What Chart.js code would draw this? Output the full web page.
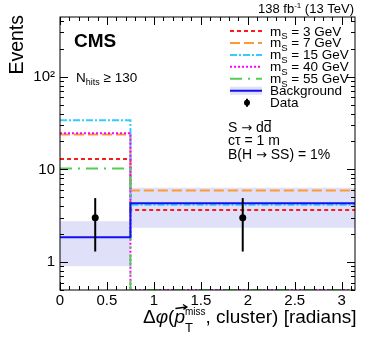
<!DOCTYPE html>
<html>
<head>
<meta charset="utf-8">
<script src="https://cdn.jsdelivr.net/npm/chart.js@4/dist/chart.umd.min.js"></script>
<style>
  html, body { margin: 0; padding: 0; background: #fff; }
  #wrap { width: 374px; height: 341px; }
</style>
</head>
<body>
<div id="wrap"><canvas id="c"></canvas></div>
<script>
// Bins and values
const binEdges = [0, 0.75, Math.PI];
const massLabels = ['3', '7', '15', '40', '55'];
const sig3 = [12.9, 3.65];
const sig7 = [23.8, 5.9];
const sig15 = [33.8, 4.15];
const sig40 = [24.6, 0];
const sig55 = [10.2, 0];
const bkg = [1.85, 4.3];
const bkgLow = [0.9, 2.35];
const bkgHigh = [2.75, 6.35];
const dataX = [0.375, 1.946];
const dataY = [3, 3];
const dataLow = [1.3, 1.3];
const dataHigh = [4.9, 4.9];
const xTicks = [0, 0.5, 1, 1.5, 2, 2.5, 3];
const yTicks = [1, 10, 100];
const yTickLabels = ['1', '10', '10\u00B2'];

const Y_MIN = 0.5, Y_MAX = 440;
const FONT = '"Liberation Sans", Arial, Helvetica, sans-serif';
const SYM = '"DejaVu Sans", sans-serif';
const BAND = 'rgb(224,224,249)';
const BLUE = '#1010f0';

function font(size, style, fam) {
    return (style || '') + ' ' + size + 'px ' + (fam || FONT);
}

// histogram as a stepped line, empty bins sit on the axis floor
function stepPoints(vals) {
    return binEdges.map((x, i) => ({ x: x, y: Math.max(vals[Math.max(i - 1, 0)], Y_MIN) }));
}

const sigStyles = [
    { vals: sig3, color: '#ff1a1a', dash: [4, 3] },
    { vals: sig7, color: '#ff9933', dash: [10, 4] },
    { vals: sig15, color: '#33ccff', dash: [7, 2, 2, 2] },
    { vals: sig40, color: '#ff00ff', dash: [2, 2] },
    { vals: sig55, color: '#55cc55', dash: [12, 6, 2, 6] }
];

const datasets = [];
datasets.push({
    label: 'Data',
    data: dataX.map((x, i) => ({ x: x, y: dataY[i] })),
    showLine: false,
    pointRadius: 3.5,
    pointBackgroundColor: '#000',
    pointBorderWidth: 0,
    order: 0
});
sigStyles.forEach((s, i) => {
    datasets.push({
        label: massLabels[i],
        data: stepPoints(s.vals),
        stepped: 'after',
        borderColor: s.color,
        borderDash: s.dash,
        borderWidth: 2,
        pointRadius: 0,
        fill: false,
        order: 6 - i
    });
});
datasets.push({
    label: 'Background',
    data: stepPoints(bkg),
    stepped: 'after',
    borderColor: BLUE,
    borderWidth: 2,
    pointRadius: 0,
    fill: false,
    order: 1
});
datasets.push({
    label: 'bandHigh',
    data: stepPoints(bkgHigh),
    stepped: 'after',
    borderWidth: 0,
    borderColor: 'rgba(0,0,0,0)',
    backgroundColor: BAND,
    pointRadius: 0,
    fill: '+1',
    order: 10
});
datasets.push({
    label: 'bandLow',
    data: stepPoints(bkgLow),
    stepped: 'after',
    borderWidth: 0,
    borderColor: 'rgba(0,0,0,0)',
    pointRadius: 0,
    fill: false,
    order: 11
});

// text made of pieces with sub/superscripts; a "keep" piece does not advance
function drawParts(ctx, parts, x, y, align) {
    const ws = parts.map(p => { ctx.font = font(p.s, p.st, p.f); return ctx.measureText(p.t).width; });
    let total = 0, held = 0;
    parts.forEach((p, i) => {
        if (p.keep) { held = ws[i]; return; }
        total += Math.max(ws[i], held); held = 0;
    });
    let cx = align === 'right' ? x - total : x;
    const xs = [];
    held = 0;
    ctx.textAlign = 'left';
    ctx.textBaseline = 'alphabetic';
    parts.forEach((p, i) => {
        ctx.font = font(p.s, p.st, p.f);
        ctx.fillText(p.t, cx, y + (p.dy || 0));
        xs.push(cx);
        if (p.keep) { held = ws[i]; return; }
        cx += Math.max(ws[i], held); held = 0;
    });
    return { xs: xs, ws: ws };
}

const decor = {
    id: 'decor',
    afterDatasetsDraw(chart) {
        const ctx = chart.ctx, xs = chart.scales.x, ys = chart.scales.y;
        ctx.save();
        ctx.strokeStyle = '#000';
        ctx.lineWidth = 2;
        dataX.forEach((x, i) => {
            const px = xs.getPixelForValue(x);
            ctx.beginPath();
            ctx.moveTo(px, ys.getPixelForValue(dataLow[i]));
            ctx.lineTo(px, ys.getPixelForValue(dataHigh[i]));
            ctx.stroke();
        });
        ctx.restore();
    },
    afterDraw(chart) {
        const ctx = chart.ctx, a = chart.chartArea;
        const xs = chart.scales.x, ys = chart.scales.y;
        ctx.save();
        // frame and inward ticks
        ctx.strokeStyle = '#000';
        ctx.lineWidth = 1;
        ctx.strokeRect(a.left, a.top, a.right - a.left, a.bottom - a.top);
        ctx.beginPath();
        for (let k = 0; k <= 31; k++) {
            const px = Math.round(xs.getPixelForValue(k / 10)) + 0.5;
            const len = k % 5 === 0 ? 8 : 4;
            ctx.moveTo(px, a.bottom); ctx.lineTo(px, a.bottom - len);
            ctx.moveTo(px, a.top); ctx.lineTo(px, a.top + len);
        }
        [0.1, 1, 10, 100].forEach(d => {
            for (let m = 1; m <= 9; m++) {
                const v = m * d;
                if (v < Y_MIN || v > Y_MAX) continue;
                const py = Math.round(ys.getPixelForValue(v)) + 0.5;
                const len = m === 1 ? 8 : 4;
                ctx.moveTo(a.left, py); ctx.lineTo(a.left + len, py);
                ctx.moveTo(a.right, py); ctx.lineTo(a.right - len, py);
            }
        });
        ctx.stroke();

        ctx.fillStyle = '#000';
        // header texts
        drawParts(ctx, [
            { t: '138 fb', s: 13 }, { t: '-1', s: 8, dy: -5 }, { t: ' (13 TeV)', s: 13 }
        ], 354, 13, 'right');
        ctx.font = font(19, 'bold');
        ctx.fillText('CMS', 74, 47);
        drawParts(ctx, [
            { t: 'N', s: 13.5 }, { t: 'hits', s: 9, dy: 3 }, { t: ' \u2265 130', s: 13.5 }
        ], 76, 81.5);

        // y title
        ctx.save();
        ctx.translate(23, 15);
        ctx.rotate(-Math.PI / 2);
        ctx.textAlign = 'right';
        ctx.font = font(19.5);
        ctx.fillText('Events', 0, 0);
        ctx.restore();

        // x title
        const r = drawParts(ctx, [
            { t: '\u0394', s: 19 }, { t: '\u03C6', s: 19, st: 'italic' }, { t: '(', s: 19 },
            { t: 'p', s: 19, st: 'italic' },
            { t: 'miss', s: 10, dy: -8, keep: true }, { t: 'T', s: 13, dy: 9 },
            { t: ', cluster) [radians]', s: 19 }
        ], 356.5, 322.5, 'right');
        const ax0 = r.xs[3] + 1, ax1 = r.xs[3] + r.ws[3] + 2, ay = 307;
        ctx.lineWidth = 1.3;
        ctx.beginPath();
        ctx.moveTo(ax0, ay + 1.5); ctx.lineTo(ax1, ay);
        ctx.moveTo(ax1 - 4, ay - 2.5); ctx.lineTo(ax1, ay); ctx.lineTo(ax1 - 3.5, ay + 2.5);
        ctx.stroke();

        // legend
        const lx0 = 230, lx1 = 262, tx = 270, step = 11.95, top = 31;
        sigStyles.forEach((s, i) => {
            const cy = top + i * step;
            ctx.save();
            ctx.strokeStyle = s.color;
            ctx.lineWidth = 2;
            ctx.setLineDash(s.dash);
            ctx.beginPath(); ctx.moveTo(lx0, cy); ctx.lineTo(lx1, cy); ctx.stroke();
            ctx.restore();
            drawParts(ctx, [
                { t: 'm', s: 13.5 }, { t: 'S', s: 9.5, dy: 3.5 }, { t: ' = ' + massLabels[i] + ' GeV', s: 13.5 }
            ], tx, cy + 4.5);
        });
        let cy = top + 5 * step;
        ctx.fillStyle = BAND;
        ctx.fillRect(lx0, cy - 4, lx1 - lx0, 8);
        ctx.strokeStyle = BLUE;
        ctx.lineWidth = 2;
        ctx.beginPath(); ctx.moveTo(lx0, cy); ctx.lineTo(lx1, cy); ctx.stroke();
        ctx.fillStyle = '#000';
        drawParts(ctx, [{ t: 'Background', s: 13.5 }], tx, cy + 4.5);
        cy = top + 6 * step;
        ctx.beginPath(); ctx.arc(247, cy, 3, 0, Math.PI * 2); ctx.fill();
        ctx.strokeStyle = '#000';
        ctx.beginPath(); ctx.moveTo(247, cy - 4); ctx.lineTo(247, cy + 4); ctx.stroke();
        drawParts(ctx, [{ t: 'Data', s: 13.5 }], tx, cy + 4.5);

        // model texts
        const m = drawParts(ctx, [
            { t: 'S ', s: 14 }, { t: '\u2192', s: 13, f: SYM }, { t: ' d', s: 14 }, { t: 'd', s: 14 }
        ], 228, 131.5);
        ctx.lineWidth = 1;
        ctx.beginPath();
        ctx.moveTo(m.xs[3] + 0.5, 120.5); ctx.lineTo(m.xs[3] + m.ws[3] - 0.5, 120.5);
        ctx.stroke();
        drawParts(ctx, [{ t: 'c\u03C4 = 1 m', s: 14 }], 228, 145);
        drawParts(ctx, [
            { t: 'B(H ', s: 14 }, { t: '\u2192', s: 13, f: SYM }, { t: ' SS) = 1%', s: 14 }
        ], 228, 159);
        ctx.restore();
    }
};

new Chart(document.getElementById('c'), {
    type: 'line',
    data: { datasets: datasets },
    plugins: [decor],
    options: {
        responsive: true,
        maintainAspectRatio: false,
        animation: false,
        layout: { padding: { top: 17, right: 19, left: 0, bottom: 0 } },
        plugins: { legend: { display: false }, tooltip: { enabled: false } },
        scales: {
            x: {
                type: 'linear',
                min: 0,
                max: Math.PI,
                afterBuildTicks: s => { s.ticks = xTicks.map(v => ({ value: v })); },
                afterFit: s => { s.height = 51; },
                grid: { display: false, drawTicks: false },
                border: { display: false },
                ticks: {
                    padding: 2,
                    color: '#000',
                    font: { family: FONT, size: 15 },
                    maxRotation: 0,
                    callback: v => String(v)
                }
            },
            y: {
                type: 'logarithmic',
                min: Y_MIN,
                max: Y_MAX,
                afterBuildTicks: s => { s.ticks = yTicks.map(v => ({ value: v })); },
                afterFit: s => { s.width = 60; },
                grid: { display: false, drawTicks: false },
                border: { display: false },
                ticks: {
                    padding: 5,
                    color: '#000',
                    font: { family: FONT, size: 15 },
                    callback: v => yTickLabels[yTicks.indexOf(v)]
                }
            }
        }
    }
});
</script>
</body>
</html>
